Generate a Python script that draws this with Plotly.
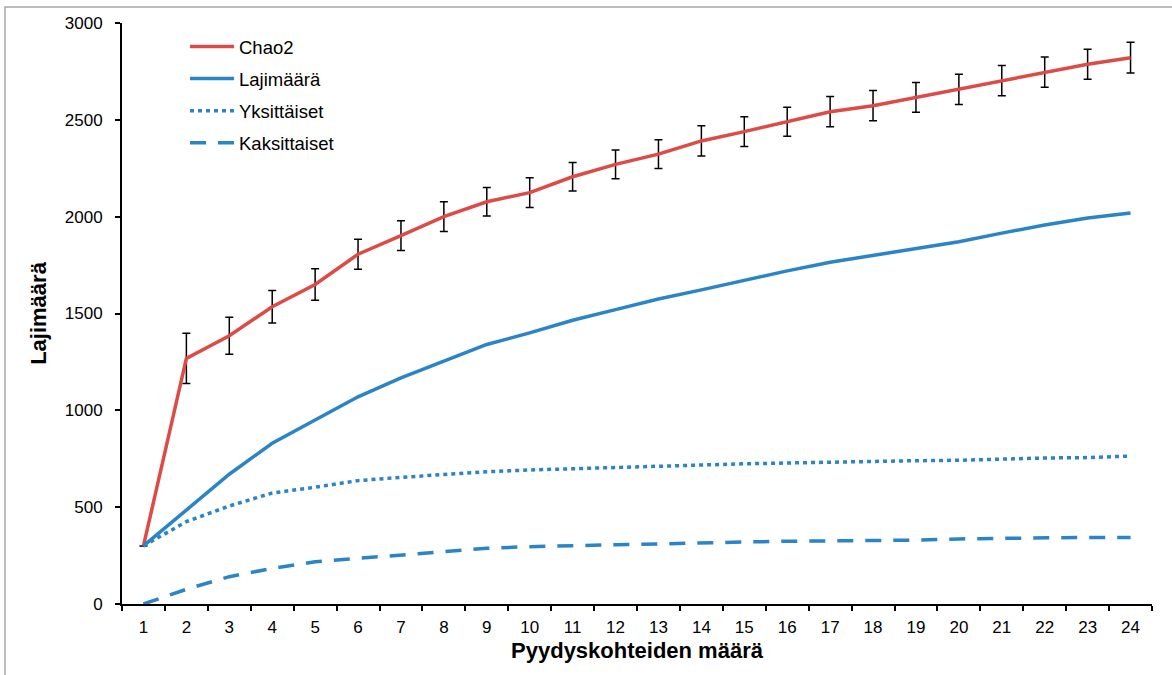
import plotly.graph_objects as go

categories = [str(i) for i in range(1, 25)]
chao2 = [300, 1268, 1385, 1535, 1650, 1806, 1902, 2000, 2077, 2124, 2206, 2270,
         2323, 2391, 2439, 2490, 2542, 2573, 2616, 2657, 2703, 2746, 2787, 2821]
chao2_err = [0, 130, 96, 84, 81, 77, 77, 77, 74, 77, 74, 74,
             74, 78, 77, 75, 78, 78, 77, 78, 78, 78, 78, 79]
lajimaara = [300, 485, 670, 830, 950, 1070, 1167, 1255, 1340, 1400, 1465, 1520,
             1575, 1622, 1672, 1720, 1765, 1800, 1835, 1870, 1915, 1957, 1993, 2019]
yksittaiset = [300, 425, 506, 573, 603, 637, 654, 668, 683, 692, 699, 706,
               714, 719, 724, 728, 733, 735, 740, 742, 749, 754, 756, 764]
kaksittaiset = [0, 76, 141, 184, 218, 236, 253, 272, 288, 296, 299, 306,
                310, 317, 320, 324, 325, 329, 330, 336, 339, 344, 344, 344]

RED = "#DD4B47"
BLUE = "#2A84C6"
FONT = "Liberation Sans, Arial, sans-serif"

fig = go.Figure()
fig.add_trace(go.Scatter(
    x=categories, y=chao2, name="Chao2", mode="lines", legendgroup="a",
    line=dict(color=RED, width=3.5),
    error_y=dict(type="data", array=chao2_err, color="black", thickness=1.5, width=4),
))
fig.add_trace(go.Scatter(
    x=categories, y=lajimaara, name="Lajimäärä", mode="lines", legendgroup="b",
    line=dict(color=BLUE, width=3.5),
))
fig.add_trace(go.Scatter(
    x=categories, y=yksittaiset, name="Yksittäiset", mode="lines", legendgroup="c",
    line=dict(color=BLUE, width=3.5, dash="4px,4px"),
))
fig.add_trace(go.Scatter(
    x=categories, y=kaksittaiset, name="Kaksittaiset", mode="lines", legendgroup="d",
    line=dict(color=BLUE, width=3.5, dash="16px,12px"),
))

L, R, T, B = 122, 20, 23, 71
W, H = 1172, 675
pw, ph = W - L - R, H - T - B

def px(x):
    return (x - L) / pw

def py(y):
    return (H - B - y) / ph

fig.add_shape(type="rect", xref="paper", yref="paper",
              x0=px(5), x1=px(1180), y0=py(690), y1=py(7),
              line=dict(color="#A6A6A6", width=1.5), layer="below")

fig.update_layout(
    width=W, height=H,
    margin=dict(l=L, r=R, t=T, b=B),
    paper_bgcolor="white", plot_bgcolor="white",
    font=dict(family=FONT, color="black", size=17),
    showlegend=True,
    legend=dict(x=px(185), y=py(28), xanchor="left", yanchor="top",
                font=dict(size=18.5), tracegroupgap=5,
                bgcolor="rgba(0,0,0,0)", itemwidth=44),
    xaxis=dict(
        type="category", tickson="boundaries", range=[-0.5, 23.5],
        ticks="outside", ticklen=5,
        tickwidth=2, tickcolor="black", showline=True, linecolor="black",
        linewidth=2, showgrid=False, zeroline=False,
        tickfont=dict(size=17), ticklabelstandoff=7,
        title=dict(text="<b>Pyydyskohteiden määrä</b>", font=dict(size=22), standoff=6),
    ),
    yaxis=dict(
        range=[0, 3000], dtick=500, ticks="outside", ticklen=5, tickwidth=2,
        tickcolor="black", showline=True, linecolor="black", linewidth=2,
        showgrid=False, zeroline=False, tickfont=dict(size=17),
        ticklabelstandoff=9,
        title=dict(text="<b>Lajimäärä</b>", font=dict(size=22), standoff=12),
    ),
)

fig.write_html("out.html")
